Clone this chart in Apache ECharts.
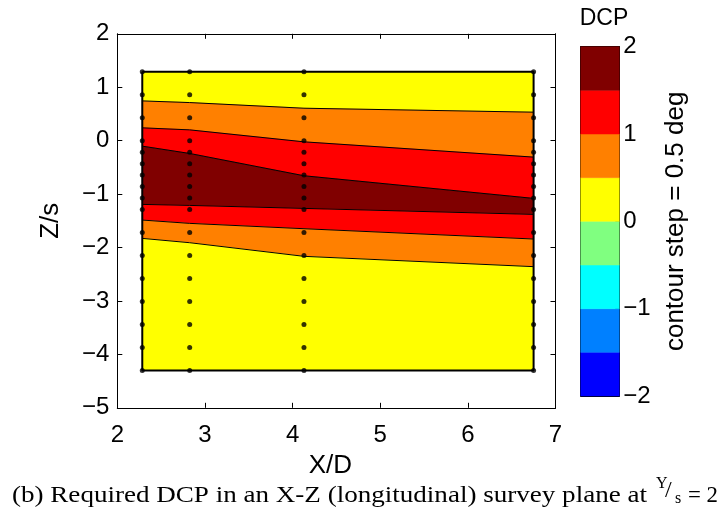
<!DOCTYPE html>
<html><head><meta charset="utf-8">
<script src="https://cdn.jsdelivr.net/npm/echarts@6/dist/echarts.min.js"></script>
<style>html,body{margin:0;padding:0;background:#fff}#c{width:723px;height:516px}</style>
</head><body><div id="c"></div>
<script>
// ---- data ----
const xCols = [2.285, 2.826, 4.13, 6.75];                 // survey columns X/D
const zRows = [1.29, 0.86, 0.43, 0, -0.215, -0.43, -0.645, -0.86, -1.075, -1.29,
               -1.72, -2.15, -2.58, -3.01, -3.44, -3.87, -4.30]; // survey rows Z/s
// contour boundaries: Z/s value of each boundary at each column
const zTop     = [1.29, 1.29, 1.29, 1.29];
const c05upper = [0.744, 0.713, 0.607, 0.533];
const c10upper = [0.240, 0.202, -0.022, -0.308];
const c15upper = [-0.103, -0.240, -0.657, -1.081];
const c15lower = [-1.193, -1.212, -1.268, -1.380];
const c10lower = [-1.486, -1.548, -1.648, -1.841];
const c05lower = [-1.829, -1.910, -2.165, -2.358];
const zBottom  = [-4.30, -4.30, -4.30, -4.30];
const bandLevel = [0, 0.5, 1, 1.5, 1, 0.5, 0];   // lower DCP level of each band (top to bottom)
const contourLevels = [-2, -1.5, -1, -0.5, 0, 0.5, 1, 1.5, 2];
const levelColors = ['#0000ff', '#0080ff', '#00ffff', '#80ff80', '#ffff00', '#ff8000', '#ff0000', '#800000'];
const xTicks = [2, 3, 4, 5, 6, 7];
const yTicks = [-5, -4, -3, -2, -1, 0, 1, 2];
const cbTicks = [-2, -1, 0, 1, 2];

// ---- chart ----
const FONT = 'Liberation Sans';
const SERIF = 'Liberation Serif';
const minus = v => String(v).replace('-', '\u2212');
const boundaries = [zTop, c05upper, c10upper, c15upper, c15lower, c10lower, c05lower, zBottom];
const contourLines = [c05upper, c10upper, c15upper, c15lower, c10lower, c05lower];
const colorFor = lv => levelColors[contourLevels.indexOf(lv)];

const chart = echarts.init(document.getElementById('c'));

const axisLineStyle = {show: true, onZero: false, lineStyle: {color: '#000', width: 1}};
const tickIn = {show: true, inside: true, length: 5, lineStyle: {color: '#000', width: 1}};
const labelStyle = {fontSize: 24, fontFamily: FONT, color: '#000'};

// caption measurement
const mctx = document.createElement('canvas').getContext('2d');
const capMain = '(b) Required DCP in an X-Z (longitudinal) survey plane at';
mctx.font = '24px "' + SERIF + '"';
const capW = mctx.measureText(capMain).width;
const capScale = (647 - 12) / capW;
const eqW = mctx.measureText('= 2').width;

const frame = [[xCols[0], zTop[0]], [xCols[3], zTop[3]], [xCols[3], zBottom[3]], [xCols[0], zBottom[0]], [xCols[0], zTop[0]]];

const series = [
  {
    type: 'custom', xAxisIndex: 0, yAxisIndex: 0, z: 1, silent: true, clip: false,
    data: bandLevel.map((lv, i) => [xCols[0], boundaries[i][0], lv]),
    renderItem(params, api) {
      const i = params.dataIndex;
      const up = boundaries[i], lo = boundaries[i + 1];
      const pts = xCols.map((x, k) => api.coord([x, up[k]]))
        .concat(xCols.map((x, k) => api.coord([x, lo[k]])).reverse());
      const c = colorFor(bandLevel[i]);
      return {type: 'polygon', shape: {points: pts}, style: {fill: c, stroke: c, lineWidth: 0.5}};
    }
  },
  ...contourLines.map(arr => ({
    type: 'line', xAxisIndex: 0, yAxisIndex: 0, z: 2, silent: true, symbol: 'none',
    lineStyle: {color: '#000', width: 1}, data: xCols.map((x, k) => [x, arr[k]])
  })),
  {
    type: 'line', xAxisIndex: 0, yAxisIndex: 0, z: 3, silent: true, symbol: 'none',
    lineStyle: {color: '#000', width: 2}, data: frame
  },
  {
    type: 'scatter', xAxisIndex: 0, yAxisIndex: 0, z: 4, silent: true, symbolSize: 5,
    itemStyle: {color: '#000'},
    data: xCols.flatMap(x => zRows.map(z => [x, z]))
  },
  {
    type: 'custom', xAxisIndex: 2, yAxisIndex: 2, z: 1, silent: true,
    data: levelColors.map((c, i) => [0.5, contourLevels[i]]),
    renderItem(params, api) {
      const i = params.dataIndex;
      const p0 = api.coord([0, contourLevels[i + 1]]);
      const p1 = api.coord([1, contourLevels[i]]);
      return {type: 'rect', shape: {x: p0[0], y: p0[1], width: p1[0] - p0[0], height: p1[1] - p0[1]},
              style: {fill: levelColors[i], stroke: levelColors[i], lineWidth: 0.5}};
    }
  }
];

const option = {
  backgroundColor: '#fff',
  animation: false,
  grid: [
    {left: 117.3, top: 33.8, width: 438.2, height: 374, outerBoundsMode: 'none', containLabel: false},
    {left: 580.7, top: 46.7, width: 38.6, height: 349.3, outerBoundsMode: 'none', containLabel: false}
  ],
  xAxis: [
    {gridIndex: 0, type: 'value', min: xTicks[0], max: xTicks[xTicks.length - 1], interval: 1, position: 'bottom',
     axisLine: axisLineStyle, axisTick: tickIn, splitLine: {show: false},
     axisLabel: Object.assign({margin: 16, formatter: minus}, labelStyle),
     name: 'X/D', nameLocation: 'middle', nameGap: 45,
     nameTextStyle: {fontSize: 26, fontFamily: FONT, color: '#000', padding: [0, 12, 0, 0]}},
    {gridIndex: 0, type: 'value', min: xTicks[0], max: xTicks[xTicks.length - 1], interval: 1, position: 'top',
     axisLine: axisLineStyle, axisTick: tickIn, splitLine: {show: false}, axisLabel: {show: false}},
    {gridIndex: 1, type: 'value', min: 0, max: 1, position: 'bottom',
     axisLine: axisLineStyle, axisTick: {show: false}, splitLine: {show: false}, axisLabel: {show: false}},
    {gridIndex: 1, type: 'value', min: 0, max: 1, position: 'top',
     axisLine: axisLineStyle, axisTick: {show: false}, splitLine: {show: false}, axisLabel: {show: false}}
  ],
  yAxis: [
    {gridIndex: 0, type: 'value', min: yTicks[0], max: yTicks[yTicks.length - 1], interval: 1, position: 'left',
     axisLine: axisLineStyle, axisTick: tickIn, splitLine: {show: false},
     axisLabel: Object.assign({margin: 8, formatter: minus}, labelStyle),
     name: 'Z/s', nameLocation: 'middle', nameGap: 53,
     nameTextStyle: {fontSize: 26, fontFamily: FONT, color: '#000'}},
    {gridIndex: 0, type: 'value', min: yTicks[0], max: yTicks[yTicks.length - 1], interval: 1, position: 'right',
     axisLine: axisLineStyle, axisTick: tickIn, splitLine: {show: false}, axisLabel: {show: false}},
    {gridIndex: 1, type: 'value', min: cbTicks[0], max: cbTicks[cbTicks.length - 1], interval: 1, position: 'right',
     axisLine: axisLineStyle, axisTick: {show: true, inside: true, length: 4, lineStyle: {color: '#000'}},
     splitLine: {show: false},
     axisLabel: Object.assign({margin: 4, formatter: minus}, labelStyle),
     name: 'contour step = 0.5 deg', nameLocation: 'middle', nameGap: 44,
     nameTextStyle: {fontSize: 26, fontFamily: FONT, color: '#000'}},
    {gridIndex: 1, type: 'value', min: cbTicks[0], max: cbTicks[cbTicks.length - 1], interval: 1, position: 'left',
     axisLine: axisLineStyle, axisTick: {show: false}, splitLine: {show: false}, axisLabel: {show: false}}
  ],
  graphic: [
    {type: 'text', x: 604, y: 19, style: {text: 'DCP', fontSize: 23, fontFamily: FONT, fill: '#000', align: 'center', verticalAlign: 'middle'}},
    {type: 'text', x: 12, y: 496, scaleX: capScale, style: {text: capMain, fontSize: 24, fontFamily: SERIF, fill: '#000', align: 'left', verticalAlign: 'middle'}},
    {type: 'text', x: 656, y: 484, style: {text: 'Y', fontSize: 16, fontFamily: SERIF, fill: '#000', align: 'left', verticalAlign: 'middle'}},
    {type: 'text', x: 665, y: 491, style: {text: '/', fontSize: 24, fontFamily: SERIF, fill: '#000', align: 'left', verticalAlign: 'middle'}},
    {type: 'text', x: 675, y: 499, style: {text: 's', fontSize: 16, fontFamily: SERIF, fill: '#000', align: 'left', verticalAlign: 'middle'}},
    {type: 'text', x: 688, y: 496, scaleX: (718 - 688) / eqW, style: {text: '= 2', fontSize: 24, fontFamily: SERIF, fill: '#000', align: 'left', verticalAlign: 'middle'}}
  ],
  series: series
};
chart.setOption(option);
</script>
</body></html>
